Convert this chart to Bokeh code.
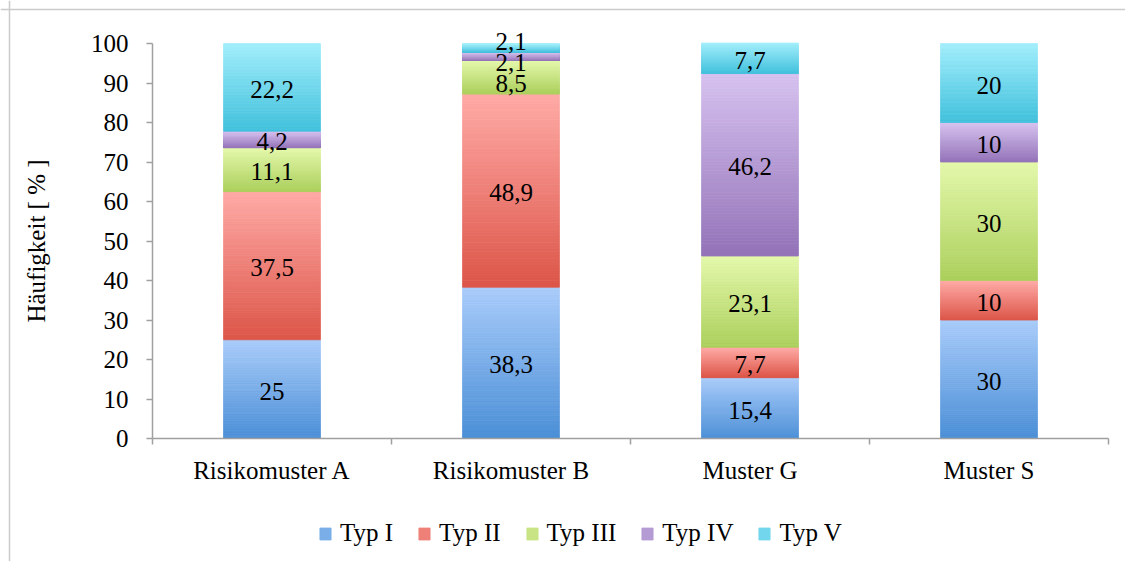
from bokeh.plotting import figure
from bokeh.models import (Range1d, FixedTicker, LinearAxis, ColumnDataSource,
                          Legend, LegendItem, LabelSet, Span)
from bokeh.embed import file_html
from bokeh.resources import INLINE

categories = ["Risikomuster A", "Risikomuster B", "Muster G", "Muster S"]
types = ["Typ I", "Typ II", "Typ III", "Typ IV", "Typ V"]
typ_1 = [25, 38.3, 15.4, 30]
typ_2 = [37.5, 48.9, 7.7, 10]
typ_3 = [11.1, 8.5, 23.1, 30]
typ_4 = [4.2, 2.1, 46.2, 10]
typ_5 = [22.2, 2.1, 7.7, 20]
series = [typ_1, typ_2, typ_3, typ_4, typ_5]
y_ticks = [0, 10, 20, 30, 40, 50, 60, 70, 80, 90, 100]

top_colors = ["#a9ccfa", "#ffaaa6", "#e4f8ab", "#d6c2ef", "#a2eefb"]
bottom_colors = ["#4a8ed6", "#dc5548", "#abcf5b", "#9372b8", "#40c0dc"]

FONT = "Liberation Serif"
BAR_W = 0.405
N_SLICES = 60
LABEL_GAP = 5.4

# layout in pixels: the frame covers the whole figure
FIG_W, FIG_H = 1125, 561
X_LEFT_PX, X_RIGHT_PX = 152, 1108     # axis extent
Y_TOP_PX, Y_BOT_PX = 43, 438          # 100 and 0
BORDER_PX = 9
N_CAT = len(categories)
Y_MAX = 100
px_x = (X_RIGHT_PX - X_LEFT_PX) / N_CAT
px_y = (Y_BOT_PX - Y_TOP_PX) / Y_MAX
x_range = Range1d(-X_LEFT_PX / px_x, N_CAT + (FIG_W - X_RIGHT_PX) / px_x)
y_range = Range1d(-(FIG_H - Y_BOT_PX) / px_y, Y_MAX + Y_TOP_PX / px_y)


def hex_to_rgb(h):
    return tuple(int(h[i:i + 2], 16) for i in (1, 3, 5))


def mix(c_bot, c_top, t):
    a, b = hex_to_rgb(c_bot), hex_to_rgb(c_top)
    return "#%02x%02x%02x" % tuple(round(a[i] + (b[i] - a[i]) * t) for i in range(3))


def spread(centers, gap):
    clusters = [[c] for c in centers]

    def layout(cl):
        m = sum(cl) / len(cl)
        s = m - gap * (len(cl) - 1) / 2
        return [s + gap * k for k in range(len(cl))]

    changed = True
    while changed:
        changed = False
        for j in range(len(clusters) - 1):
            a, b = layout(clusters[j]), layout(clusters[j + 1])
            if b[0] - a[-1] < gap:
                clusters[j] = clusters[j] + clusters[j + 1]
                del clusters[j + 1]
                changed = True
                break
    out = []
    for cl in clusters:
        out += layout(cl)
    return out


p = figure(width=FIG_W, height=FIG_H, output_backend="svg", toolbar_location=None,
           x_range=x_range, y_range=y_range, x_axis_type=None, y_axis_type=None,
           min_border_left=0, min_border_right=0, min_border_top=0, min_border_bottom=0)
p.xgrid.visible = False
p.ygrid.visible = False
p.outline_line_color = None

# light frame lines at the left and top of the chart area
p.add_layout(Span(location=BORDER_PX, location_units="screen", dimension="height",
                  line_color="#cbcbcb", line_width=1.5))
p.add_layout(Span(location=FIG_H - BORDER_PX, location_units="screen", dimension="width",
                  line_color="#cbcbcb", line_width=1.5))

# gradient bars
renderers = []
for s_idx, vals in enumerate(series):
    left, right, bottom, top, color = [], [], [], [], []
    for c_idx, v in enumerate(vals):
        base = sum(series[k][c_idx] for k in range(s_idx))
        cx = c_idx + 0.5
        for k in range(N_SLICES):
            left.append(cx - BAR_W / 2)
            right.append(cx + BAR_W / 2)
            bottom.append(base + v * k / N_SLICES)
            top.append(base + v * (k + 1) / N_SLICES)
            color.append(mix(bottom_colors[s_idx], top_colors[s_idx], (k + 0.5) / N_SLICES))
    src = ColumnDataSource(dict(left=left, right=right, bottom=bottom, top=top, color=color))
    r = p.quad(left="left", right="right", bottom="bottom", top="top", source=src,
               fill_color="color", line_color="color", line_width=0.8)
    renderers.append(r)

# data labels
lx, ly, lt = [], [], []
for c_idx in range(N_CAT):
    centers = []
    base = 0
    for s_idx, vals in enumerate(series):
        v = vals[c_idx]
        centers.append(base + v / 2)
        base += v
    pos = spread(centers, LABEL_GAP)
    for s_idx, vals in enumerate(series):
        lx.append(c_idx + 0.5)
        ly.append(pos[s_idx])
        lt.append(("%g" % vals[c_idx]).replace(".", ","))
lab_src = ColumnDataSource(dict(x=lx, y=ly, text=lt))
labels = LabelSet(x="x", y="y", text="text", source=lab_src, text_align="center",
                  text_baseline="middle", text_font=FONT, text_font_size="25px",
                  text_color="black", y_offset=-2)
p.add_layout(labels)

axis_color = "#a0a0a0"

# y axis at x = 0
yax = LinearAxis(ticker=FixedTicker(ticks=y_ticks), axis_label="Häufigkeit [ % ]",
                 bounds=(0, Y_MAX), fixed_location=0)
yax.axis_line_color = axis_color
yax.axis_line_width = 1.5
yax.major_tick_line_color = axis_color
yax.major_tick_line_width = 1.5
yax.major_tick_out = 6
yax.major_tick_in = 0
yax.minor_tick_line_color = None
yax.major_label_text_font = FONT
yax.major_label_text_font_size = "25px"
yax.major_label_text_color = "black"
yax.major_label_standoff = 18
yax.axis_label_text_font = FONT
yax.axis_label_text_font_size = "25px"
yax.axis_label_text_font_style = "normal"
yax.axis_label_text_color = "black"
yax.axis_label_standoff = 38
p.add_layout(yax, "left")

# x axis with ticks at category boundaries, drawn at y = 0
xax = LinearAxis(ticker=FixedTicker(ticks=list(range(N_CAT + 1))),
                 bounds=(0, N_CAT), fixed_location=0)
xax.axis_line_color = axis_color
xax.axis_line_width = 1.5
xax.major_tick_line_color = axis_color
xax.major_tick_line_width = 1.5
xax.major_tick_out = 6
xax.major_tick_in = 0
xax.minor_tick_line_color = None
xax.major_label_overrides = {i: "" for i in range(N_CAT + 1)}
xax.major_label_text_font_size = "1px"
xax.major_label_standoff = 0
p.add_layout(xax, "below")

# category labels
cax = LinearAxis(ticker=FixedTicker(ticks=[i + 0.5 for i in range(N_CAT)]),
                 bounds=(0, N_CAT), fixed_location=0)
cax.axis_line_color = None
cax.major_tick_line_color = None
cax.major_tick_out = 0
cax.major_tick_in = 0
cax.minor_tick_line_color = None
cax.major_label_overrides = {i + 0.5: c for i, c in enumerate(categories)}
cax.major_label_text_font = FONT
cax.major_label_text_font_size = "25px"
cax.major_label_text_color = "black"
cax.major_label_standoff = 18
p.add_layout(cax, "below")

legend = Legend(items=[LegendItem(label=t, renderers=[renderers[i]], index=N_SLICES // 2)
                       for i, t in enumerate(types)],
                orientation="horizontal", location=(318, 14),
                label_text_font=FONT, label_text_font_size="25px",
                label_text_color="black",
                glyph_width=14, glyph_height=15, label_standoff=8, spacing=24,
                border_line_color=None, background_fill_alpha=0,
                margin=0, padding=0)
p.add_layout(legend)

open("out.html", "w").write(file_html(p, INLINE))
